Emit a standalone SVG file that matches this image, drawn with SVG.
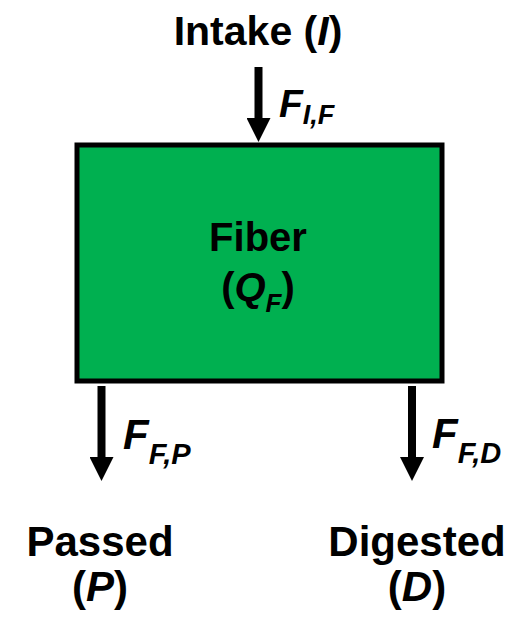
<svg xmlns="http://www.w3.org/2000/svg" width="510" height="617" viewBox="0 0 510 617">
<defs>
<style>
.lbl{font-family:"Liberation Sans",Arial,sans-serif;font-weight:bold;fill:#000;text-anchor:middle}
.flow{font-family:"Liberation Sans",Arial,sans-serif;font-weight:bold;font-style:italic;fill:#000}
.it{font-style:italic}
.conn{stroke:#000;stroke-width:8;fill:none;marker-end:url(#head)}
</style>
<marker id="head" markerUnits="userSpaceOnUse" markerWidth="24" markerHeight="24" viewBox="0 0 24 24" refX="1" refY="12" orient="auto">
<path d="M0,0 L24,12 L0,24 z" fill="#000"/>
</marker>
</defs>
<rect width="510" height="617" fill="#fff"/>
<g id="intake">
<text class="lbl" x="258" y="45" font-size="41">Intake (<tspan class="it">I</tspan>)</text>
</g>
<g id="fiber">
<rect x="77" y="145" width="365" height="236" fill="#00B050" stroke="#000" stroke-width="5"/>
<text class="lbl" x="258" y="251" font-size="40">Fiber</text>
<text class="lbl" x="258" y="301" font-size="40">(<tspan class="it">Q</tspan><tspan class="it" font-size="26" dy="11">F</tspan><tspan dy="-11">)</tspan></text>
</g>
<g id="passed">
<text class="lbl" x="100" y="556" font-size="42">Passed</text>
<text class="lbl" x="100" y="601" font-size="42">(<tspan class="it">P</tspan>)</text>
</g>
<g id="digested">
<text class="lbl" x="417" y="556" font-size="42">Digested</text>
<text class="lbl" x="417" y="601" font-size="42">(<tspan class="it">D</tspan>)</text>
</g>
<g id="connectors">
<line class="conn" x1="258.5" y1="67" x2="258.5" y2="119"/>
<line class="conn" x1="101.5" y1="386" x2="101.5" y2="458"/>
<line class="conn" x1="412" y1="386" x2="412" y2="458"/>
<text class="flow" x="279" y="117" font-size="39">F<tspan font-size="27" dy="7">I,F</tspan></text>
<text class="flow" x="123" y="449" font-size="42">F<tspan font-size="29" dy="15">F,P</tspan></text>
<text class="flow" x="432" y="448" font-size="42">F<tspan font-size="29" dy="15">F,D</tspan></text>
</g>
</svg>
